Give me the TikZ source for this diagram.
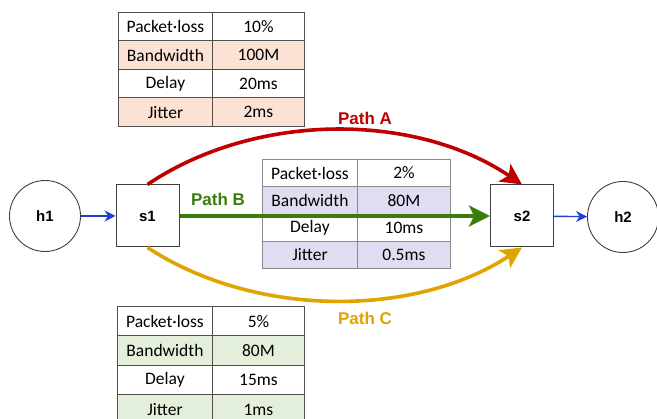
\documentclass[tikz,border=0pt]{standalone}
\usepackage{fontspec}
\setmainfont{Carlito}
\newfontfamily\labfont{Liberation Sans}
\usetikzlibrary{arrows.meta}
\definecolor{peach}{HTML}{FBE2D4}
\definecolor{lav}{HTML}{E2DCF2}
\definecolor{mint}{HTML}{E3EFDA}
\definecolor{pathred}{HTML}{C00000}
\definecolor{pathgreen}{HTML}{3A7D0C}
\definecolor{pathorange}{HTML}{E0A300}
\definecolor{linkblue}{HTML}{1F3FD0}
\definecolor{bordA}{HTML}{505050}
\definecolor{bordB}{HTML}{8A8A8A}
\tikzset{
  cell/.style={draw=#1, line width=0.9pt, inner sep=0pt, anchor=north west,
    font=\fontsize{17.5}{19}\selectfont},
  hostnode/.style={draw=black!75, line width=0.9pt, circle, minimum size=71pt,
    font=\labfont\bfseries\fontsize{15}{17}\selectfont},
  switchnode/.style={draw=black!75, line width=1pt, minimum width=63pt, minimum height=62pt,
    font=\labfont\bfseries\fontsize{15}{17}\selectfont},
  pathlab/.style={font=\labfont\bfseries\fontsize{17}{19}\selectfont},
  bigpath/.style={line width=3.6pt, -{Stealth[length=21pt,width=21pt,inset=5pt]}},
  hostlink/.style={draw=linkblue, line width=1.4pt, -{Stealth[length=11pt,width=11pt]}}
}
\begin{document}
\begin{tikzpicture}[x=1pt,y=-1pt]
\clip (0,0) rectangle (657,419);
\fill[white] (0,0) rectangle (657,419);

% Table A (top)
\foreach \lab/\val/\fc [count=\i] in {Packet·loss/10\%/white, Bandwidth/100M/peach, Delay/20ms/white, Jitter/2ms/peach}{
  \node[cell=bordA, fill=\fc, minimum width=94pt, minimum height=28.5pt] (tA-\i-1) at (118,{12+(\i-1)*28.5}) {\lab};
  \node[cell=bordA, fill=\fc, minimum width=92pt, minimum height=28.5pt] (tA-\i-2) at (212,{12+(\i-1)*28.5}) {\val};
}
% Table B (middle)
\foreach \lab/\val/\fc [count=\i] in {Packet·loss/2\%/white, Bandwidth/80M/lav, Delay/10ms/white, Jitter/0.5ms/lav}{
  \node[cell=bordB, fill=\fc, minimum width=95pt, minimum height=27.3pt] (tB-\i-1) at (262,{159+(\i-1)*27.3}) {\lab};
  \node[cell=bordB, fill=\fc, minimum width=93pt, minimum height=27.3pt] (tB-\i-2) at (357,{159+(\i-1)*27.3}) {\val};
}
% Table C (bottom)
\foreach \lab/\val/\fc [count=\i] in {Packet·loss/5\%/white, Bandwidth/80M/mint, Delay/15ms/white, Jitter/1ms/mint}{
  \node[cell=bordA, fill=\fc, minimum width=95pt, minimum height=29.5pt] (tC-\i-1) at (117,{306+(\i-1)*29.5}) {\lab};
  \node[cell=bordA, fill=\fc, minimum width=92pt, minimum height=29.5pt] (tC-\i-2) at (212,{306+(\i-1)*29.5}) {\val};
}

% Hosts and switches
\node[hostnode] (h1) at (45,216) {h1};
\node[switchnode] (s1) at (147.5,216) {s1};
\node[switchnode] (s2) at (522,216) {s2};
\node[hostnode] (h2) at (623,217) {h2};

\draw[hostlink] (h1) -- (s1);
\draw[hostlink] (s2) -- (h2);

% Paths
\draw[bigpath, draw=pathred, color=pathred] (s1.north) .. controls (255,112) and (415,112) .. (s2.north);
\draw[bigpath, draw=pathgreen, color=pathgreen] (s1.east) -- (s2.west);
\draw[bigpath, draw=pathorange, color=pathorange] (s1.south) .. controls (255,318) and (415,318) .. (s2.south);

\node[pathlab, text=pathred] (labA) at (365,118) {Path A};
\node[pathlab, text=pathgreen] (labB) at (218,199) {Path B};
\node[pathlab, text=pathorange] (labC) at (365,318) {Path C};
\end{tikzpicture}
\end{document}
